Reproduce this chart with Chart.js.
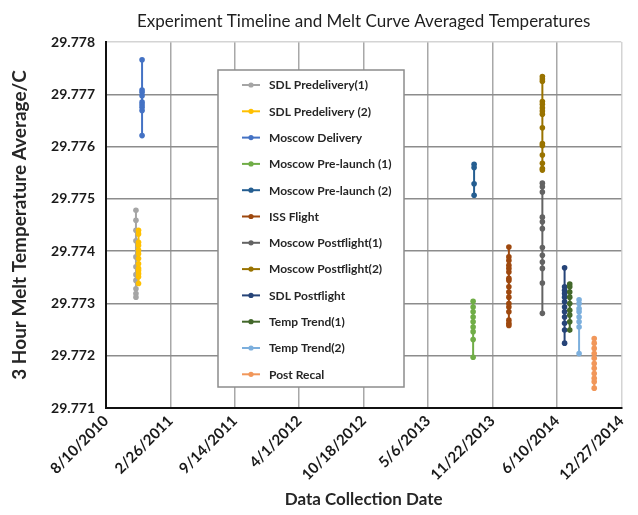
<!DOCTYPE html>
<html><head><meta charset="utf-8">
<script src="https://cdn.jsdelivr.net/npm/chart.js@4.4.1/dist/chart.umd.min.js"></script>
<style>html,body{margin:0;padding:0;background:#fff;}#wrap{width:638px;height:515px;}</style>
</head><body><div id="wrap"><canvas id="c" width="638" height="515"></canvas></div>
<script>
// ---- data ----
const chartTitle = 'Experiment Timeline and Melt Curve Averaged Temperatures';
const yAxisTitle = '3 Hour Melt Temperature Average/C';
const xAxisTitle = 'Data Collection Date';

const seriesNames = ['SDL Predelivery(1)','SDL Predelivery (2)','Moscow Delivery','Moscow Pre-launch (1)','Moscow Pre-launch (2)','ISS Flight','Moscow Postflight(1)','Moscow Postflight(2)','SDL Postflight','Temp Trend(1)','Temp Trend(2)','Post Recal'];
const seriesDates = ['11/11/2010','11/19/2010','11/30/2010','9/23/2013','9/26/2013','1/12/2014','4/26/2014','4/26/2014','7/4/2014','7/20/2014','8/18/2014','10/4/2014'];
const seriesColors = ['#A5A5A5','#FFC000','#4472C4','#70AD47','#255E91','#9E480E','#636363','#997300','#264478','#43682B','#7CAFDD','#F1975A'];

const sdlPredelivery1 = [29.77478,29.77459,29.77440,29.77420,29.77389,29.77370,29.77355,29.77344,29.77328,29.77319,29.77312];
const sdlPredelivery2 = [29.77440,29.77433,29.77417,29.77411,29.77402,29.77395,29.77386,29.77376,29.77367,29.77363,29.77357,29.77351,29.77338];
const moscowDelivery = [29.77766,29.77708,29.77704,29.77697,29.77685,29.77680,29.77675,29.77669,29.77621];
const moscowPrelaunch1 = [29.77304,29.77293,29.77284,29.77274,29.77265,29.77255,29.77246,29.77231,29.77197];
const moscowPrelaunch2 = [29.77566,29.77560,29.77529,29.77507];
const issFlight = [29.77408,29.77389,29.77382,29.77373,29.77367,29.77360,29.77348,29.77344,29.77332,29.77322,29.77312,29.77300,29.77293,29.77284,29.77268,29.77262,29.77258];
const moscowPostflight1 = [29.77530,29.77523,29.77513,29.77465,29.77456,29.77443,29.77407,29.77392,29.77379,29.77367,29.77339,29.77281];
const moscowPostflight2 = [29.77734,29.77729,29.77725,29.77686,29.77681,29.77674,29.77668,29.77662,29.77636,29.77606,29.77602,29.77584,29.77568,29.77558,29.77555];
const sdlPostflight = [29.77368,29.77332,29.77325,29.77319,29.77312,29.77303,29.77293,29.77284,29.77274,29.77262,29.77249,29.77224];
const tempTrend1 = [29.77337,29.77332,29.77322,29.77312,29.77300,29.77287,29.77278,29.77265,29.77249];
const tempTrend2 = [29.77307,29.77300,29.77290,29.77284,29.77274,29.77265,29.77255,29.77204];
const postRecal = [29.77233,29.77224,29.77214,29.77204,29.77195,29.77185,29.77176,29.77166,29.77157,29.77150,29.77138];
const seriesValues = [sdlPredelivery1,sdlPredelivery2,moscowDelivery,moscowPrelaunch1,moscowPrelaunch2,issFlight,moscowPostflight1,moscowPostflight2,sdlPostflight,tempTrend1,tempTrend2,postRecal];

const xTickFirst = '8/10/2010';
const xTickLast = '12/27/2014';
const xTickStepDays = 200;
const yMin = 29.771, yMax = 29.778, yStep = 0.001;

// ---- helpers ----
const EPOCH = Date.UTC(1899, 11, 30);
function toSerial(s){ const [m,d,y] = s.split('/').map(Number); return Math.round((Date.UTC(y,m-1,d)-EPOCH)/86400000); }
function fromSerial(n){ const dt = new Date(EPOCH + Math.round(n)*86400000); return (dt.getUTCMonth()+1)+'/'+dt.getUTCDate()+'/'+dt.getUTCFullYear(); }

const FONT = 'Lato';
const datasets = seriesNames.map((name,i)=>({
  label: name,
  data: seriesValues[i].map(v=>({x: toSerial(seriesDates[i]), y: v})),
  borderColor: seriesColors[i],
  backgroundColor: seriesColors[i],
  borderWidth: 2,
  pointRadius: 2.8,
  pointBorderWidth: 0,
  showLine: true,
  order: -i
}));

const legendBoxPlugin = {
  id: 'legendBox',
  afterDatasetsDraw(chart){
    const ctx = chart.ctx;
    const x0 = 218, y0 = 70, w = 186, h = 317;
    ctx.save();
    ctx.fillStyle = '#ffffff';
    ctx.fillRect(x0, y0, w, h);
    ctx.strokeStyle = '#8c8c8c';
    ctx.lineWidth = 1.5;
    ctx.strokeRect(x0, y0, w, h);
    ctx.font = 'bold 12px ' + FONT;
    ctx.textBaseline = 'middle';
    ctx.textAlign = 'left';
    chart.data.datasets.forEach((ds,i)=>{
      const cy = 85 + i*26.3;
      ctx.strokeStyle = ds.borderColor;
      ctx.lineWidth = 2;
      ctx.beginPath(); ctx.moveTo(242, cy); ctx.lineTo(260, cy); ctx.stroke();
      ctx.fillStyle = ds.borderColor;
      ctx.beginPath(); ctx.arc(251, cy, 2.6, 0, Math.PI*2); ctx.fill();
      ctx.fillStyle = '#262626';
      ctx.fillText(ds.label, 269, cy + 0.5);
    });
    ctx.restore();
  }
};

new Chart(document.getElementById('c'), {
  type: 'scatter',
  data: { datasets },
  options: {
    responsive: false,
    animation: false,
    devicePixelRatio: 1,
    layout: { padding: { left: 0, right: 6, top: 0, bottom: 0 } },
    plugins: {
      legend: { display: false },
      tooltip: { enabled: false },
      title: {
        display: true, text: chartTitle, fullSize: false,
        font: { family: FONT, size: 17, weight: 'normal' }, color: '#1f1f1f',
        padding: { top: 11, bottom: 10.6 }
      }
    },
    scales: {
      x: {
        type: 'linear', position: 'bottom',
        min: toSerial(xTickFirst), max: toSerial(xTickLast),
        afterFit(s){ s.height = 107; },
        ticks: {
          stepSize: xTickStepDays, autoSkip: false,
          maxRotation: 45, minRotation: 45, padding: 4,
          font: { family: FONT, size: 15, weight: 'bold' }, color: '#1a1a1a',
          callback: v => fromSerial(v)
        },
        grid: {
          drawTicks: false, lineWidth: 1.5,
          color: c => (c.index === 8 ? '#d4d4d4' : '#a8a8a8')
        },
        border: { display: true, color: '#111111', width: 2 },
        title: {
          display: true, text: xAxisTitle,
          font: { family: FONT, size: 17, weight: 'bold' }, color: '#262626',
          padding: { top: 0, bottom: 5 }
        }
      },
      y: {
        min: yMin, max: yMax,
        afterFit(s){ s.width = 106; },
        ticks: {
          stepSize: yStep, padding: 11,
          font: { family: FONT, size: 14, weight: 'bold' }, color: '#1a1a1a',
          callback: v => Number(v).toFixed(3)
        },
        grid: {
          drawTicks: false, lineWidth: 1.5,
          color: c => (c.tick && c.tick.value > yMax - yStep/2 ? '#d4d4d4' : '#8c8c8c')
        },
        border: { display: true, color: '#111111', width: 2 },
        title: {
          display: true, text: yAxisTitle,
          font: { family: FONT, size: 19, weight: 'bold' }, color: '#262626',
          padding: { top: 8, bottom: 0 }
        }
      }
    }
  },
  plugins: [legendBoxPlugin]
});
</script></body></html>
